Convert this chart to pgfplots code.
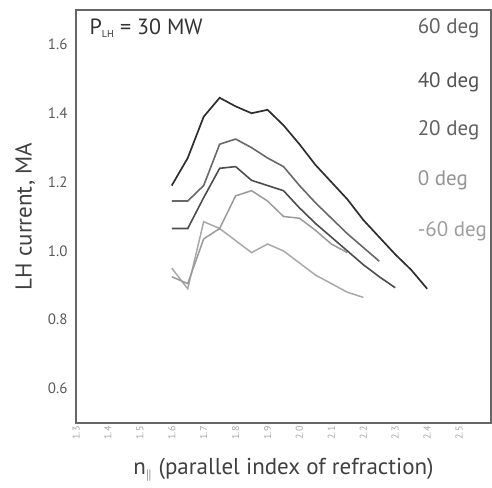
\documentclass[border=0pt]{standalone}
\usepackage{pgfplots}
\pgfplotsset{compat=1.18}
\usepackage{fontspec}
\setmainfont{PT Sans}
\definecolor{cA}{HTML}{2E2E2E}
\definecolor{cB}{HTML}{686868}
\definecolor{cC}{HTML}{4C4C4C}
\definecolor{cD}{HTML}{9A9A9A}
\definecolor{cE}{HTML}{A8A8A8}
\begin{document}
\begin{tikzpicture}[x=1pt,y=1pt]
\useasboundingbox (-76,-64) rectangle (416,423);
\begin{axis}[
  at={(0,0)}, anchor=south west,
  scale only axis, width=415pt, height=413pt,
  xmin=1.3, xmax=2.6, ymin=0.5, ymax=1.7,
  xtick={1.3,1.4,1.5,1.6,1.7,1.8,1.9,2.0,2.1,2.2,2.3,2.4,2.5},
  ytick={0.6,0.8,1.0,1.2,1.4,1.6},
  major tick length=0pt,
  /pgf/number format/assume math mode=true,
  /pgf/number format/.cd, fixed, fixed zerofill, precision=1, /pgfplots/.cd,
  xticklabel style={rotate=90, anchor=east, font=\fontsize{10}{11}\selectfont, text=black!35},
  yticklabel style={font=\fontsize{15}{17}\selectfont, text=black!65, xshift=-5pt},
  axis line style={draw=black!60, line width=1.3pt},
  xlabel={n$_{\scriptscriptstyle\|}$ (parallel index of refraction)},
  ylabel={LH current, MA},
  label style={font=\fontsize{23}{26}\selectfont, text=black!75},
  xlabel style={yshift=-12pt},
  ylabel style={yshift=6pt},
  clip=false,
]
\addplot[cE, line width=1.5pt] coordinates {
(1.6,0.95) (1.65,0.89) (1.7,1.085) (1.75,1.065) (1.8,1.03) (1.85,0.995) (1.9,1.02) (1.95,1.00) (2.0,0.965) (2.05,0.93) (2.1,0.905) (2.15,0.88) (2.2,0.865)};
\addplot[cD, line width=1.5pt] coordinates {
(1.6,0.925) (1.65,0.905) (1.7,1.035) (1.75,1.065) (1.8,1.16) (1.85,1.175) (1.9,1.145) (1.95,1.10) (2.0,1.095) (2.05,1.06) (2.1,1.02) (2.15,0.995)};
\addplot[cC, line width=1.6pt] coordinates {
(1.6,1.065) (1.65,1.065) (1.7,1.155) (1.75,1.24) (1.8,1.245) (1.85,1.205) (1.9,1.19) (1.95,1.175) (2.0,1.125) (2.05,1.08) (2.1,1.04) (2.15,1.00) (2.2,0.96) (2.25,0.925) (2.3,0.893)};
\addplot[cB, line width=1.6pt] coordinates {
(1.6,1.145) (1.65,1.145) (1.7,1.19) (1.75,1.31) (1.8,1.325) (1.85,1.30) (1.9,1.27) (1.95,1.245) (2.0,1.19) (2.05,1.14) (2.1,1.095) (2.15,1.05) (2.2,1.01) (2.25,0.97)};
\addplot[cA, line width=1.7pt] coordinates {
(1.6,1.19) (1.65,1.27) (1.7,1.39) (1.75,1.445) (1.8,1.42) (1.85,1.40) (1.9,1.41) (1.95,1.365) (2.0,1.31) (2.05,1.25) (2.1,1.20) (2.15,1.15) (2.2,1.09) (2.25,1.04) (2.3,0.99) (2.35,0.945) (2.4,0.89)};
\node[anchor=west, inner sep=0pt, font=\fontsize{21}{23}\selectfont, text=black!62] at (axis cs:2.37,1.648) {60 deg};
\node[anchor=west, inner sep=0pt, font=\fontsize{21}{23}\selectfont, text=black!68] at (axis cs:2.37,1.491) {40 deg};
\node[anchor=west, inner sep=0pt, font=\fontsize{21}{23}\selectfont, text=black!62] at (axis cs:2.37,1.352) {20 deg};
\node[anchor=west, inner sep=0pt, font=\fontsize{21}{23}\selectfont, text=black!42] at (axis cs:2.37,1.206) {0 deg};
\node[anchor=west, inner sep=0pt, font=\fontsize{21}{23}\selectfont, text=black!38] at (axis cs:2.37,1.058) {-60 deg};
\node[anchor=west, inner sep=0pt, font=\fontsize{22}{24}\selectfont, text=black!80] at (axis cs:1.342,1.648) {P\textsubscript{\fontsize{10}{11}\selectfont LH} = 30 MW};
\end{axis}
\end{tikzpicture}
\end{document}
